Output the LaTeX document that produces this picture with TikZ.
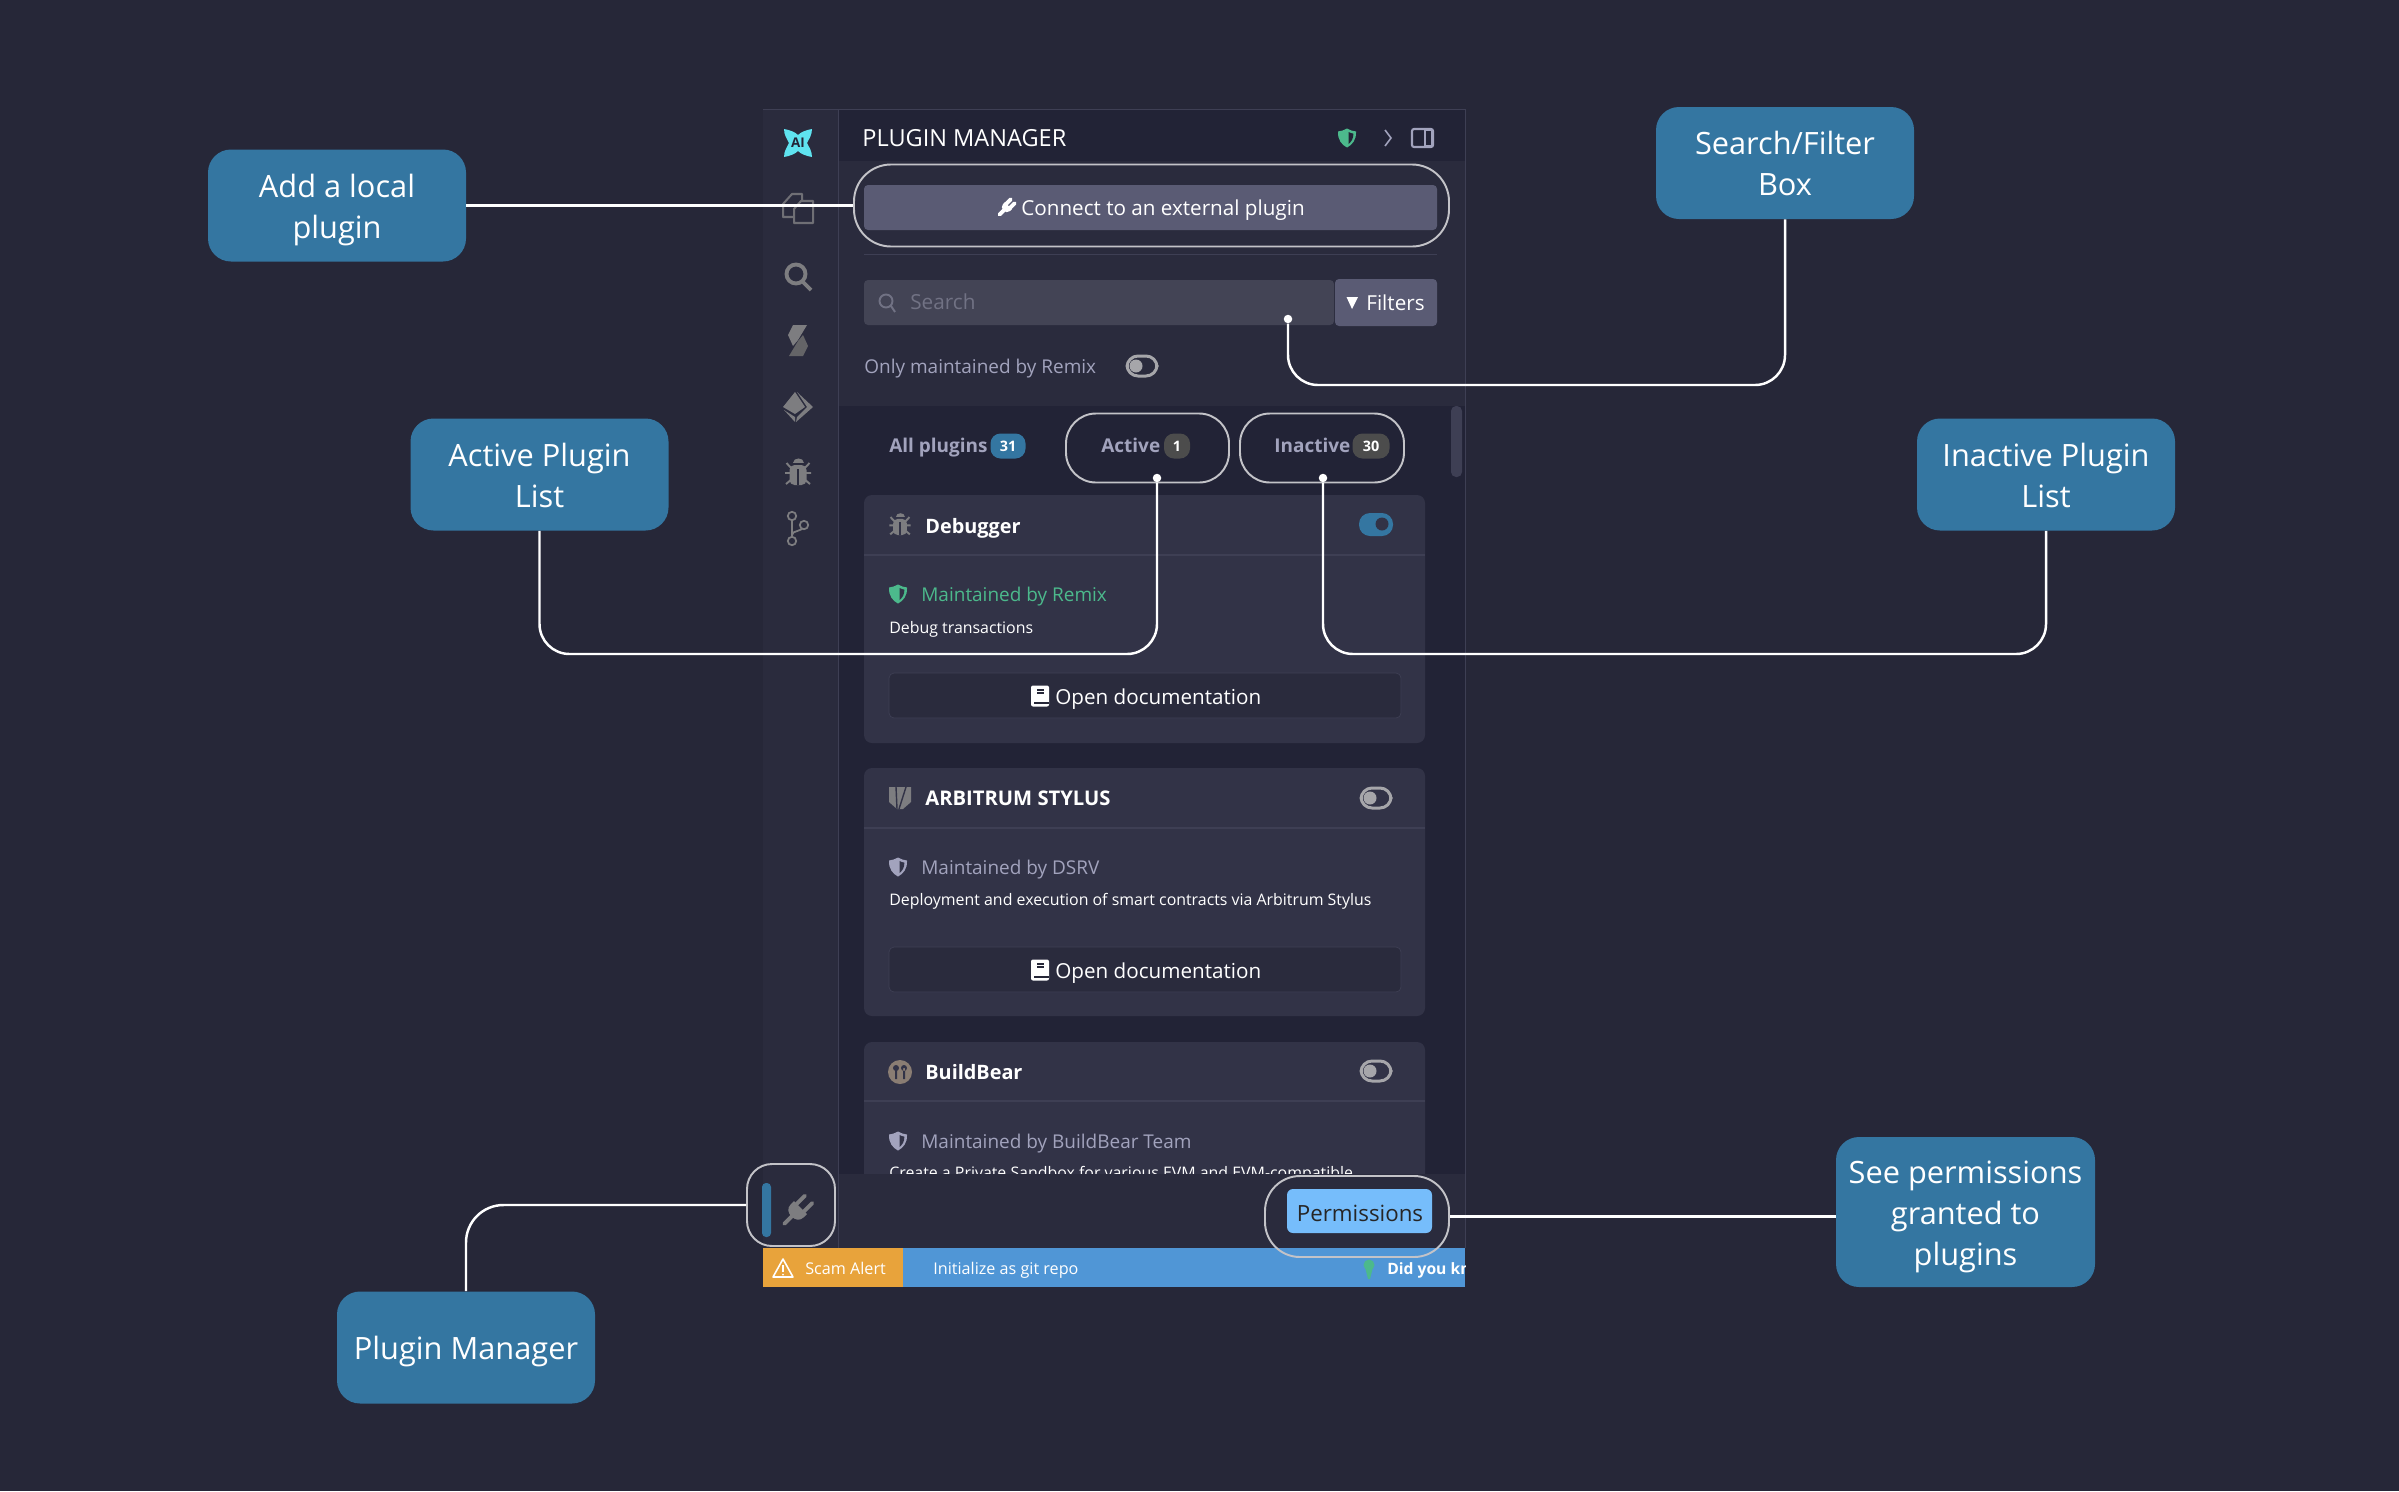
\documentclass[tikz,border=0pt]{standalone}
\usepackage{fontspec}
\setmainfont{Open Sans}
\usetikzlibrary{calc}
\definecolor{page_bg}{RGB}{38,39,56}
\definecolor{head_bg}{RGB}{34,35,54}
\definecolor{side_bg}{RGB}{42,43,61}
\definecolor{card_bg}{RGB}{50,51,71}
\definecolor{rule_col}{RGB}{62,63,84}
\definecolor{btn_bg}{RGB}{90,91,116}
\definecolor{search_bg}{RGB}{67,68,85}
\definecolor{muted}{RGB}{162,163,189}
\definecolor{icon_col}{RGB}{125,125,128}
\definecolor{mint}{RGB}{76,185,140}
\definecolor{box_blue}{RGB}{52,118,161}
\definecolor{ring_col}{RGB}{195,195,200}
\definecolor{perm_blue}{RGB}{118,189,251}
\definecolor{bar_blue}{RGB}{80,150,214}
\definecolor{bar_orange}{RGB}{232,163,59}
\definecolor{ai_cyan}{RGB}{95,227,240}
\newcommand{\topline}{\rule{0pt}{18pt}}
\newcommand{\lastline}{\rule[-4pt]{0pt}{4pt}}
\tikzset{ box_size/.style 2 args = { minimum width = #1*0.02cm % px
        , minimum height = #2*0.02cm
        , inner sep = 0pt
        }
        , callout_style/.style = { rectangle % blue label
        , fill = box_blue
        , rounded corners = 0.46cm
        , text = white
        , align = center
        , box_size = {258}{112}
        , font = \fontsize{17.5}{23.4}\selectfont
        }
        , ring_style/.style = { rectangle % highlight
        , draw = ring_col
        , line width = 1.1pt
        , box_size = {#1}
        }
        , link_style/.style = { draw = white
        , line width = 1.4pt
        , rounded corners = 0.6cm
        }
        , dot_style/.style = { circle
        , fill = white
        , inner sep = 0pt
        , minimum size = 0.17cm
        }
        , ui_text/.style = { anchor = mid west
        , inner sep = 0pt
        , text = white
        , yshift = -0.05cm
        , font = \fontsize{11.75}{15}\selectfont
        }
        , small_text/.style = { ui_text
        , yshift = 0.02cm
        , font = \fontsize{9.05}{12}\selectfont
        }
        , title_text/.style = { ui_text
        , font = \fontsize{11.3}{15}\bfseries\selectfont
        }
        , muted_text/.style = { ui_text
        , text = muted
        , font = \fontsize{10.8}{15}\selectfont
        }
        , tab_text/.style = { muted_text
        , font = \fontsize{10.8}{15}\bfseries\selectfont
        }
        , badge_style/.style = { rectangle
        , rounded corners = 0.2cm
        , text = white
        , box_size = {#1}{25}
        , font = \fontsize{8.2}{10}\bfseries\selectfont
        }
        }
\newcommand{\shieldicon}[4]{\begin{scope}[shift={(#1,#2)}]
        \fill[#3] (0,-9.5) .. controls (3,-7.5) and (6,-7) .. (9,-6.5) .. controls (9.5,2) and (5,7) .. (0,9.5) .. controls (-5,7) and (-9.5,2) .. (-9,-6.5) .. controls (-6,-7) and (-3,-7.5) .. (0,-9.5) -- cycle;
        \fill[#4] (1.5,-6) .. controls (3,-5) and (5,-4.6) .. (6.4,-4.4) .. controls (6.5,1) and (4,4) .. (1.5,6) -- cycle;
        \end{scope}}
\newcommand{\toggleoff}[2]{\draw[ring_col!85!black,line width=1.7pt,rounded corners=0.22cm] (#1-15,#2-10) rectangle (#1+15,#2+10);
        \fill[ring_col!85!black] (#1-6,#2) circle (6.5);}
\newcommand{\bugicon}[4]{\begin{scope}[shift={(#1,#2)},scale=#3]
        \draw[icon_col,line width=1.1pt] (-11.5,-9) -- (-6,-3) (11.5,-9) -- (6,-3) (-13,1) -- (13,1) (-12,12) -- (-6,7) (12,12) -- (6,7);
        \fill[icon_col] (-5.5,-9) .. controls (-5.5,-15) and (5.5,-15) .. (5.5,-9) -- cycle;
        \fill[icon_col,rounded corners=0.1cm] (-8.5,-7) rectangle (8.5,13);
        \draw[#4,line width=1.1pt] (0,-3) -- (0,13);
        \end{scope}}
\newcommand{\plugicon}[4]{\begin{scope}[shift={(#1,#2)},rotate=45,scale=#3]
        \draw[#4,line width=2.2pt,line cap=round] (-17,0) -- (-5,0);
        \fill[#4] (3,-8) -- (3,8) -- (-1,8) .. controls (-6,8) and (-8,4) .. (-8,0) .. controls (-8,-4) and (-6,-8) .. (-1,-8) -- cycle;
        \draw[#4,line width=2.2pt,line cap=round] (2,-4.5) -- (13,-4.5) (2,4.5) -- (13,4.5);
        \end{scope}}
\newcommand{\bookicon}[2]{\begin{scope}[shift={(#1,#2)}]
        \fill[white,rounded corners=0.04cm] (-9,-10.5) rectangle (9,10.5);
        \fill[page_bg] (-6,5.5) rectangle (9.2,7.5);
        \draw[page_bg,line width=0.7pt] (-3,-6) -- (4,-6) (-3,-3) -- (4,-3);
        \end{scope}}
\begin{document}
\begin{tikzpicture}[x=0.02cm,y=-0.02cm]
        \useasboundingbox (0,0) rectangle (2399,1491);
        \fill[page_bg] (0,0) rectangle (2399,1491);

        % panel
        \fill[side_bg] (763,109) rectangle (1465,1248);
        \fill[head_bg] (838,109) rectangle (1465,161);
        \fill[head_bg] (838,406) rectangle (1465,1174);
        \draw[rule_col] (763,109) -- (1465,109);
        \draw[rule_col] (838,109) -- (838,1248);
        \draw[rule_col] (1465,109) -- (1465,1248);
        \node [ui_text,font=\fontsize{13.4}{16}\selectfont](title) at (862,139) {PLUGIN MANAGER};
        \shieldicon{1347}{138}{mint}{head_bg}
        \draw[muted,line width=0.9pt] (1385,130) -- (1391,138) -- (1385,146);
        \draw[muted,line width=1.2pt,rounded corners=0.04cm] (1412,129) rectangle (1433,147);
        \fill[muted] (1424,129) rectangle (1433,147);
        \fill[head_bg] (1426,131) rectangle (1431,145);

        % top controls
        \fill[btn_bg,rounded corners=0.08cm] (864,185) rectangle (1437,230);
        \plugicon{1007}{207}{0.62}{white}
        \node [ui_text](connect) at (1021,208) {Connect to an external plugin};
        \draw[rule_col] (864,254) -- (1437,254);
        \fill[search_bg,rounded corners=0.08cm] (864,280) rectangle (1334,325);
        \draw[muted!70!black,line width=1.1pt] (886,301) circle (6.5) (891,306) -- (895,312);
        \node [muted_text,text=muted!70!black,font=\fontsize{11.8}{15}\selectfont](search) at (910,302) {Search};
        \fill[btn_bg,rounded corners=0.08cm] (1335,279) rectangle (1437,326);
        \fill[white] (1346.5,297) -- (1358,297) -- (1352,309) -- cycle;
        \node [ui_text](filters) at (1366,303) {Filters};
        \node [muted_text](only) at (864,366) {Only maintained by Remix};
        \toggleoff{1142}{366}

        % tabs
        \node [tab_text](all) at (889,445) {All plugins};
        \node [badge_style=35,fill=box_blue](n31) at (1008,446) {31};
        \node [tab_text](active) at (1101,445) {Active};
        \node [badge_style=26,fill=black!70](n1) at (1177,446) {1};
        \node [tab_text](inactive) at (1274,445) {Inactive};
        \node [badge_style=37,fill=black!70](n30) at (1371,446) {30};
        \fill[rule_col,rounded corners=0.1cm] (1451,406) rectangle (1462,477);

        % cards
        \fill[card_bg,rounded corners=0.16cm] (864,495) rectangle (1425,743);
        \fill[card_bg,rounded corners=0.16cm] (864,768) rectangle (1425,1016);
        \fill[card_bg,rounded corners=0.16cm] (864,1042) rectangle (1425,1260);
        \draw[rule_col,line width=0.8pt] (864,555) -- (1425,555) (864,828) -- (1425,828) (864,1101) -- (1425,1101);

        \bugicon{900}{524.5}{0.82}{card_bg}
        \node [title_text](debugger) at (925,526) {Debugger};
        \fill[box_blue,rounded corners=0.22cm] (1359,513) rectangle (1393,536);
        \fill[card_bg] (1382,524) circle (6.5);
        \shieldicon{898}{594}{mint}{card_bg}
        \node [ui_text,text=mint,font=\fontsize{10.8}{15}\selectfont](main_a) at (921,594) {Maintained by Remix};
        \node [small_text](debug_txt) at (889,627) {Debug transactions};
        \draw[rule_col,fill=side_bg,rounded corners=0.1cm] (889,673) rectangle (1401,718);
        \bookicon{1040}{696}
        \node [ui_text](doc_a) at (1055,697) {Open documentation};

        \fill[icon_col] (889,787) -- (911,787) -- (911,802) -- (903,809) -- (897,809) -- (889,802) -- cycle;
        \draw[card_bg,line width=0.8pt] (896,787) -- (897,809) (906,787) -- (899,809);
        \node [title_text,font=\fontsize{11.5}{15}\bfseries\selectfont](stylus) at (925,798) {ARBITRUM STYLUS};
        \toggleoff{1376}{798}
        \shieldicon{898}{867}{muted}{card_bg}
        \node [muted_text](main_b) at (921,867) {Maintained by DSRV};
        \node [small_text](stylus_txt) at (889,899) {Deployment and execution of smart contracts via Arbitrum Stylus};
        \draw[rule_col,fill=side_bg,rounded corners=0.1cm] (889,947) rectangle (1401,992);
        \bookicon{1040}{970}
        \node [ui_text](doc_b) at (1055,971) {Open documentation};

        \fill[brown!20!icon_col] (900,1072) circle (12);
        \fill[card_bg] (896,1068) circle (3) (904,1068) circle (3) (897,1068) rectangle (895,1079) (903,1068) rectangle (905,1079);
        \node [title_text](bear) at (925,1072) {BuildBear};
        \toggleoff{1376}{1071}
        \shieldicon{898}{1141}{muted}{card_bg}
        \node [muted_text](main_c) at (921,1141) {Maintained by BuildBear Team};
        \node [small_text](bear_txt) at (889,1172) {Create a Private Sandbox for various EVM and EVM-compatible};

        % footer
        \fill[side_bg] (839,1174) rectangle (1465,1248);
        \fill[perm_blue,rounded corners=0.12cm] (1287,1189) rectangle (1432,1233);
        \node [ui_text,text=black!85,anchor=center,yshift=0.02cm,font=\fontsize{12.7}{15}\selectfont](perm) at (1360,1212) {Permissions};

        % sidebar icons
        \begin{scope}[shift={(798,143)}]
                \fill[ai_cyan] (-14,-14) .. controls (-8,-13) and (-3,-11) .. (0,-8) .. controls (3,-11) and (8,-13) .. (14,-14) .. controls (14,-8) and (11,-4) .. (9,0) .. controls (11,4) and (14,8) .. (14,14) .. controls (8,13) and (3,11) .. (0,8) .. controls (-3,11) and (-8,13) .. (-14,14) .. controls (-14,8) and (-11,4) .. (-9,0) .. controls (-11,-4) and (-14,-8) .. (-14,-14) -- cycle;
        \end{scope}
        \node [inner sep=0pt,text=head_bg,font=\fontsize{7.6}{8}\bfseries\selectfont](ai) at (798,143) {AI};
        \draw[icon_col!85!head_bg,line width=1.15pt,line join=round] (802,201) -- (802,194) -- (792,194) -- (783,204) -- (783,217) -- (794,217) (794,209) -- (801,201) -- (813,201) -- (813,223) -- (794,223) -- cycle;
        \draw[icon_col,line width=2.2pt] (796,274) circle (9.5) (803,282) -- (811,290);
        \fill[icon_col] (793,325) -- (807,325) -- (798,340) -- (793,346) -- (788,335) -- cycle;
        \fill[icon_col!80!black] (803,356) -- (789,356) -- (798,341) -- (803,335) -- (808,346) -- cycle;
        \fill[icon_col] (795,392) -- (783,407) -- (795,414) -- (805,407) -- cycle;
        \fill[icon_col] (797,392) -- (813,407) -- (796,422) -- (797,417) -- (807,407) -- cycle;
        \fill[icon_col] (784,410) -- (795,417) -- (795,422) -- cycle;
        \bugicon{798}{472}{1}{side_bg}
        \draw[icon_col,line width=1pt] (792,521) -- (792,537) (792,535) .. controls (792,530) and (803,532) .. (804,526);
        \draw[icon_col,line width=1pt,fill=side_bg] (792,516) circle (4.2) (792,541) circle (4.2) (804,525) circle (4.2);
        \fill[box_blue,rounded corners=0.08cm] (762,1183) rectangle (771,1237);
        \plugicon{798}{1210}{1.15}{icon_col}

        % status bar
        \fill[bar_blue] (763,1248) rectangle (1465,1287);
        \fill[bar_orange] (763,1248) rectangle (903,1287);
        \draw[white,line width=0.9pt,line join=round] (783,1259) -- (793,1277) -- (773,1277) -- cycle;
        \draw[white,line width=0.9pt] (783,1265) -- (783,1272);
        \fill[white] (783,1274.5) circle (1);
        \node [small_text,font=\fontsize{9.2}{12}\selectfont](scam) at (805,1268) {Scam Alert};
        \node [small_text,font=\fontsize{9.2}{12}\selectfont](repo) at (933,1268) {Initialize as git repo};
        \fill[mint] (1369,1265) circle (5.5);
        \fill[mint] (1365,1267) -- (1373,1267) -- (1370,1279) -- (1368,1279) -- cycle;
        \begin{scope}
                \clip (1380,1248) rectangle (1465,1287);
                \node [small_text,font=\fontsize{8.9}{12}\bfseries\selectfont](tip) at (1387,1268) {Did you know};
        \end{scope}

        % highlights
        \node [ring_style={595}{82},rounded corners=0.74cm](ext_ring) at (1151.5,205.5) {};
        \node [ring_style={163}{69},rounded corners=0.6cm](active_ring) at (1147.5,448) {};
        \node [ring_style={164}{69},rounded corners=0.6cm](inactive_ring) at (1322,448) {};
        \node [ring_style={88}{82},rounded corners=0.5cm](side_ring) at (791,1205) {};
        \node [ring_style={184}{81},rounded corners=0.7cm](perm_ring) at (1357,1216.5) {};

        % labels
        \node [callout_style](local_box) at (337,205.5) {\topline Add a local\\plugin\lastline};
        \node [callout_style](filter_box) at (1785,163) {\topline Search/Filter\\Box\lastline};
        \node [callout_style](active_box) at (539.5,474.5) {\topline Active Plugin\\List\lastline};
        \node [callout_style](inactive_box) at (2046,474.5) {\topline Inactive Plugin\\List\lastline};
        \node [callout_style](manager_box) at (466,1347.5) {\topline Plugin Manager\lastline};
        \node [callout_style,box_size={259}{150}](perm_box) at (1965.5,1212) {\topline See permissions\\granted to\\plugins\lastline};

        % links
        \node [dot_style](search_dot) at (1288,319) {};
        \node [dot_style](active_dot) at (1157,478) {};
        \node [dot_style](inactive_dot) at (1323,478) {};
        \coordinate (search_low) at (1785,385);
        \coordinate (active_low) at (539.5,654);
        \coordinate (inactive_low) at (2046,654);
        \draw [link_style] (local_box.east) -- (ext_ring.west);
        \draw [link_style] (search_dot) |- (search_low) -- (filter_box.south);
        \draw [link_style] (active_dot) |- (active_low) -- (active_box.south);
        \draw [link_style] (inactive_dot) |- (inactive_low) -- (inactive_box.south);
        \draw [link_style,rounded corners=0.75cm] (side_ring.west) -| (manager_box.north);
        \draw [link_style] (perm_ring.east) -- (perm_ring.east -| perm_box.west);
\end{tikzpicture}
\end{document}
